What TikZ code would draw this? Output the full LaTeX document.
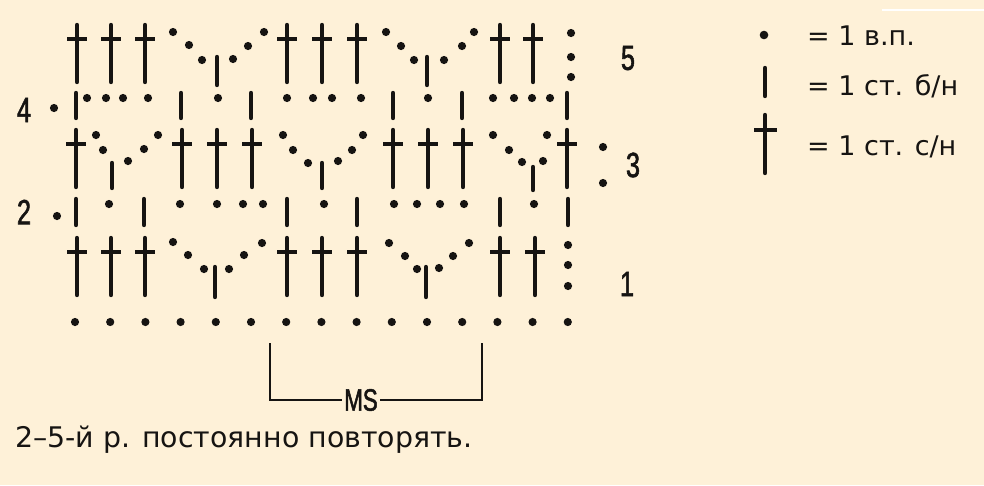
\documentclass[tikz,border=0pt]{standalone}
\usepackage{fontspec}
\setmainfont{DejaVu Sans}
\newfontfamily\techfont[FakeStretch=0.72,FakeBold=1.6]{Liberation Sans}
\definecolor{paper}{RGB}{254,241,216}
\definecolor{ink}{RGB}{22,20,18}
\tikzset{
  chdot/.style={fill=ink, draw=none},
  sym/.style={draw=ink, line width=4.4pt, line cap=round},
  bar/.style={draw=ink, line width=4.4pt, line cap=butt},
  brk/.style={draw=ink, line width=1.8pt},
  rowlbl/.style={font=\techfont\fontsize{35}{35}\selectfont, text=ink, inner sep=0pt},
  legtext/.style={font=\fontsize{27}{27}\selectfont, text=ink, inner sep=0pt, anchor=base west},
}
\newcommand{\chd}[2]{\fill[chdot] (#1,#2) circle (4.1pt);}
\newcommand{\dcat}[2]{\draw[sym] (#1,#2) -- (#1,#2+57); \draw[bar] (#1-10,#2+14) -- (#1+10,#2+14);}
\newcommand{\scat}[3]{\draw[sym] (#1,#2) -- (#1,#3);}
\begin{document}
\begin{tikzpicture}[x=1pt,y=-1pt]
\fill[paper] (0,0) rectangle (984,485);
\useasboundingbox (0,0) rectangle (984,485);
\draw[white, line width=1.5pt] (882,10) -- (984,10);

% Row 5
\foreach \x in {77,111,145,287,322,357,500,533} {\dcat{\x}{25}}
\foreach \p in {(173,32),(189,45),(202,60),(233,59),(248,46),(264,32),
                (386,32),(401,46),(414,60),(444,60),(462,46),(474,32),
                (571,33),(571,57),(571,77)} {\fill[chdot] \p circle (4.1pt);}
\scat{217}{57}{85}
\scat{427}{57}{85}

% Row 4
\chd{54}{108}
\foreach \x in {76,181,251,393,462,567} {\scat{\x}{93}{118}}
\foreach \x in {87,106,123,148,218,287,313,332,361,428,493,514,532,550} {\chd{\x}{98}}

% Row 3
\foreach \x in {76,182,217,252,393,428,463,567} {\dcat{\x}{130}}
\foreach \p in {(96,135),(103,150),(128,161),(144,149),(158,135),
                (283,135),(293,150),(308,163),(338,161),(352,150),(363,135),
                (493,135),(509,150),(522,162),(543,161),(547,135),
                (603,147),(603,183)} {\fill[chdot] \p circle (4.1pt);}
\scat{112}{163}{188}
\scat{322}{163}{188}
\scat{533}{167}{190}

% Row 2
\chd{57}{216}
\foreach \x in {76,144,287,357,500,568} {\scat{\x}{199}{225}}
\foreach \x in {109,180,217,243,263,324,394,417,440,464,534} {\chd{\x}{204}}

% Row 1
\foreach \x in {77,111,145,287,322,357,500,535} {\dcat{\x}{238}}
\foreach \p in {(173,242),(188,255),(204,269),(229,269),(244,255),(262,243),
                (389,243),(405,256),(417,269),(439,268),(453,256),(469,243),
                (568,245),(568,265),(568,286)} {\fill[chdot] \p circle (4.1pt);}
\scat{215}{267}{297}
\scat{426}{267}{297}

% Foundation chain
\foreach \k in {0,...,14} {\chd{75+35.2*\k}{322}}

% Row labels
\node[rowlbl] (l4) at (24,110) {4};
\node[rowlbl] (l2) at (24,212) {2};
\node[rowlbl] (l5) at (628,58) {5};
\node[rowlbl] (l3) at (633,165) {3};
\node[rowlbl] (l1) at (627,284) {1};

% Repeat bracket
\node[rowlbl, font=\techfont\fontsize{31}{31}\selectfont] (ms) at (361,400) {MS};
\coordinate (bl) at (270,343);
\coordinate (br) at (482,343);
\draw[brk] (bl) |- ([xshift=-2pt]ms.west);
\draw[brk] (br) |- ([xshift=2pt]ms.east);

% Legend
\fill[chdot] (764,35) circle (4.3pt);
\draw[sym] (765,68) -- (765,96);
\draw[sym] (765,115) -- (765,173);
\draw[bar] (754,130) -- (777,130);
\node[legtext] (t1) at (807,45) {= 1 в.п.};
\node[legtext] (t2) at (807,95) {= 1 ст. б/н};
\node[legtext] (t3) at (807,155) {= 1 ст. с/н};

% Note
\node[legtext, font=\fontsize{28.4}{28.4}\selectfont] (note) at (15,447) {2–5-й р. постоянно повторять.};
\end{tikzpicture}
\end{document}
